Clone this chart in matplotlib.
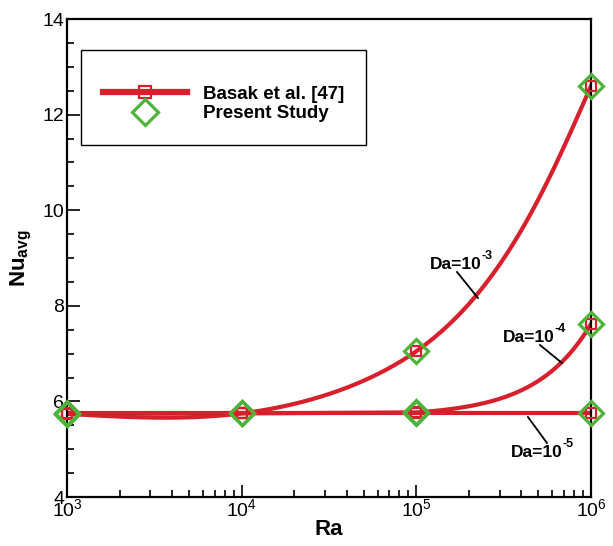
import numpy as np
import matplotlib
matplotlib.use("Agg")
import matplotlib.pyplot as plt
from matplotlib.ticker import MultipleLocator
from matplotlib.patches import Rectangle

plt.rcParams['font.family'] = ['Liberation Sans', 'DejaVu Sans']
plt.rcParams['mathtext.fontset'] = 'custom'
plt.rcParams['mathtext.rm'] = 'Liberation Sans'
plt.rcParams['mathtext.bf'] = 'Liberation Sans:bold'

# ---- data ----
ra = [1e3, 1e4, 1e5, 1e6]
basak_da3 = [5.74, 5.75, 7.05, 12.60]
basak_da4 = [5.74, 5.75, 5.77, 7.62]
basak_da5 = [5.75, 5.75, 5.75, 5.75]
present_da3 = [5.74, 5.75, 7.05, 12.60]
present_da4 = [5.74, 5.75, 5.77, 7.62]
present_da5 = [5.75, 5.75, 5.75, 5.75]
series_base = ["Da=10", "Da=10", "Da=10"]
series_exp = ["-3", "-4", "-5"]
legend_labels = ["Basak et al. [47]", "Present Study"]
curve_style = ["parametric", "exponential", "parametric"]

RED = '#d7202c'
GREEN = '#4db339'


def natural(t, y, tn):
    n = len(t); h = np.diff(t)
    A = np.zeros((n, n)); r = np.zeros(n)
    A[0, 0] = 1; A[-1, -1] = 1
    for i in range(1, n - 1):
        A[i, i - 1] = h[i - 1]; A[i, i] = 2 * (h[i - 1] + h[i]); A[i, i + 1] = h[i]
        r[i] = 6 * ((y[i + 1] - y[i]) / h[i] - (y[i] - y[i - 1]) / h[i - 1])
    M = np.linalg.solve(A, r)
    out = np.empty_like(tn)
    idx = np.clip(np.searchsorted(t, tn) - 1, 0, n - 2)
    for j, x in enumerate(tn):
        k = idx[j]; a = (t[k + 1] - x) / h[k]; b = (x - t[k]) / h[k]
        out[j] = a * y[k] + b * y[k + 1] + ((a**3 - a) * M[k] + (b**3 - b) * M[k + 1]) * h[k]**2 / 6
    return out


def smooth_curve(ax, x, y, style):
    """Smooth rendering of the line through the data points."""
    T = ax.transData
    if style == "parametric":
        P = T.transform(np.column_stack([x, y]))
        d = np.r_[0, np.cumsum(np.hypot(*np.diff(P, axis=0).T))]
        tn = np.linspace(0, d[-1], 400)
        Q = np.column_stack([natural(d, P[:, 0], tn), natural(d, P[:, 1], tn)])
        D = T.inverted().transform(Q)
        return D[:, 0], D[:, 1]
    lx = np.log10(x); yy = np.asarray(y, float)
    floor = yy.min() - 0.05
    ly = np.log10(yy - floor)
    xs = np.linspace(lx[0], lx[-1], 400)
    return 10**xs, floor + 10**np.interp(xs, lx, ly)


fig = plt.figure(figsize=(6.13, 5.46), dpi=100)
ax = fig.add_axes([0.1093, 0.0897, 0.8548, 0.8755])
ax.set_xscale('log')
ax.set_xlim(1e3, 1e6)
ax.set_ylim(4, 14)
fig.canvas.draw()

for b, p, st in zip([basak_da3, basak_da4, basak_da5], [present_da3, present_da4, present_da5],
                    curve_style):
    cx, cy = smooth_curve(ax, ra, b, st)
    ax.plot(cx, cy, color=RED, lw=3.0, zorder=2)
    ax.plot(ra, b, ls='none', marker='s', ms=7.5, mfc='none', mec=RED, mew=1.6, zorder=3,
            clip_on=False)
    ax.plot(ra, p, ls='none', marker='D', ms=12.5, mfc='none', mec=GREEN, mew=2.3, zorder=4,
            clip_on=False)

ax.set_xlim(1e3, 1e6)
ax.set_ylim(4, 14)
ax.yaxis.set_major_locator(MultipleLocator(2))
ax.yaxis.set_minor_locator(MultipleLocator(0.5))
ax.tick_params(which='both', direction='in', top=False, right=False, width=1.2,
               labelsize=14, pad=2)
ax.tick_params(which='major', length=9)
ax.tick_params(which='minor', length=5)
ax.tick_params(axis='x', pad=1)
for s in ax.spines.values():
    s.set_linewidth(1.6)

ax.set_xlabel('Ra', fontsize=16, fontweight='bold', labelpad=-1)
ax.set_ylabel(r'$\mathbf{Nu}_{\mathbf{avg}}$', fontsize=16, labelpad=6)

# annotations with leader lines (positions in log10(Ra), Nu)
text_pos = [(5.227, 8.874), (5.645, 7.347), (5.691, 4.941)]
leaders = [((5.233, 8.707), (5.353, 8.163)),
           ((5.708, 7.180), (5.834, 6.803)),
           ((5.639, 5.674), (5.748, 5.130))]
for (tx, ty), ((x0, y0), (x1, y1)), base, ex in zip(text_pos, leaders, series_base, series_exp):
    t = ax.text(10**tx, ty, base, fontsize=12.5, fontweight='bold', ha='center', va='center',
                zorder=6)
    ax.annotate(ex, xy=(1.0, 0.62), xycoords=t, fontsize=9, fontweight='bold',
                ha='left', va='bottom', zorder=6)
    ax.plot([10**x0, 10**x1], [y0, y1], color='black', lw=1.3, zorder=5)

# legend
box = Rectangle((0.0267, 0.7364), 0.5439, 0.1987, transform=ax.transAxes, fill=True,
                facecolor='white', edgecolor='black', lw=1.0, zorder=7)
ax.add_patch(box)
h1, = ax.plot([], [], color=RED, lw=4.5, marker='s', ms=8, mfc='none', mec=RED, mew=1.6)
h2, = ax.plot([], [], ls='none', marker='D', ms=13, mfc='none', mec=GREEN, mew=2.3)
leg = ax.legend([h1, h2], legend_labels, loc='center left', bbox_to_anchor=(0.0687, 0.8222),
                frameon=False, handlelength=4.5, handletextpad=0.85, borderpad=0,
                labelspacing=0.12, prop={'size': 13.5, 'weight': 'bold'}, borderaxespad=0)
leg.set_zorder(8)

fig.savefig('out.png', dpi=100)
